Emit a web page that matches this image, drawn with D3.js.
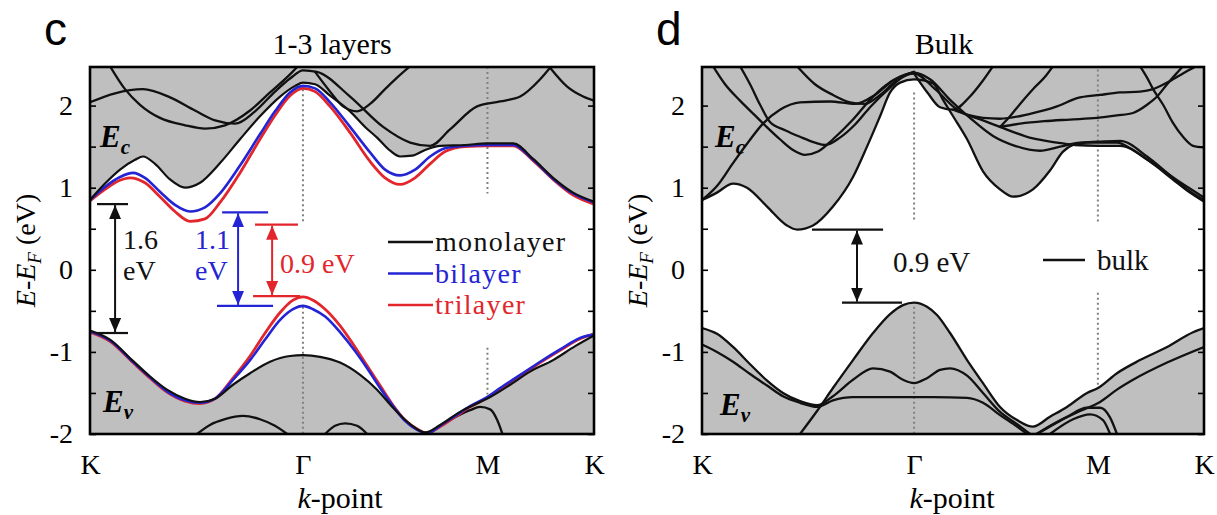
<!DOCTYPE html>
<html><head><meta charset="utf-8">
<script src="https://cdn.jsdelivr.net/npm/d3@7/dist/d3.min.js"></script>
<style>
body{margin:0;background:#fff;}
svg{display:block;}
.serif{font-family:"Liberation Serif", "Times New Roman", serif;}
.sans{font-family:"Liberation Sans", Arial, sans-serif;}
</style></head><body>
<svg id="chart" width="1217" height="515"></svg>
<script>
// ---------------- DATA ----------------
// k-path distance (units of pi/a): K - Gamma - M - K
const kTicks = [0, 1.333, 2.488, 3.155];
const kLabels = ["K", "Γ", "M", "K"];
const eDomain = [-2, 2.47];
const eMinor = [-2, -1.5, -1, -0.5, 0, 0.5, 1, 1.5, 2];

// ---- panel c : 1-3 layers ----
const mono_cb1 = [[0,0.85],[0.094,1.05],[0.188,1.22],[0.282,1.34],[0.332,1.38],[0.407,1.29],[0.501,1.10],[0.595,1.00],[0.689,1.06],[0.814,1.30],[0.939,1.59],[1.064,1.87],[1.190,2.11],[1.284,2.24],[1.334,2.28],[1.409,2.26],[1.503,2.12],[1.628,1.93],[1.722,1.74],[1.797,1.61],[1.879,1.45],[1.941,1.38],[2.016,1.39],[2.098,1.46],[2.192,1.51],[2.348,1.52],[2.486,1.54],[2.649,1.54],[2.774,1.35],[2.899,1.12],[3.024,0.94],[3.155,0.83]];
const mono_cb2 = [[0,2.04],[0.157,2.15],[0.332,2.20],[0.501,2.10],[0.657,1.94],[0.783,1.82],[0.908,1.78],[1.033,1.93],[1.158,2.17],[1.252,2.33],[1.334,2.43],[1.421,2.41],[1.628,2.11],[1.835,1.74],[2.004,1.55],[2.129,1.51],[2.254,1.71],[2.423,1.99],[2.567,2.05],[2.693,2.11],[2.818,2.32],[2.880,2.46]];
const mono_cb3 = [[0.125,2.48],[0.219,2.20],[0.313,2.01],[0.438,1.85],[0.595,1.76],[0.720,1.72],[0.845,1.76],[1.002,1.94],[1.127,2.16],[1.252,2.38],[1.302,2.48]];
const mono_cb4 = [[1.409,2.41],[1.503,2.17],[1.584,1.99],[1.672,1.93],[1.753,2.02],[1.847,2.20],[1.922,2.34],[2.004,2.48]];
const mono_cb5 = [[2.880,2.46],[2.987,2.23],[3.087,2.11],[3.155,2.06]];
const bi_cb = [[0,0.85],[0.094,1.01],[0.188,1.13],[0.269,1.18],[0.344,1.12],[0.438,0.95],[0.532,0.79],[0.626,0.71],[0.720,0.76],[0.814,0.93],[0.939,1.27],[1.064,1.65],[1.158,1.93],[1.252,2.16],[1.334,2.24],[1.409,2.21],[1.503,2.04],[1.628,1.74],[1.753,1.43],[1.847,1.22],[1.941,1.15],[2.035,1.22],[2.129,1.38],[2.223,1.48],[2.348,1.51],[2.486,1.52],[2.649,1.52],[2.774,1.34],[2.899,1.11],[3.024,0.93],[3.155,0.82]];
const tri_cb = [[0,0.84],[0.094,0.98],[0.188,1.09],[0.250,1.12],[0.344,1.06],[0.438,0.89],[0.532,0.71],[0.626,0.59],[0.720,0.62],[0.814,0.82],[0.939,1.18],[1.064,1.59],[1.158,1.88],[1.252,2.12],[1.334,2.21],[1.409,2.17],[1.503,1.99],[1.628,1.67],[1.753,1.32],[1.847,1.12],[1.941,1.04],[2.035,1.12],[2.129,1.29],[2.223,1.44],[2.348,1.50],[2.486,1.51],[2.649,1.51],[2.774,1.33],[2.899,1.10],[3.024,0.91],[3.155,0.80]];
const mono_vb1 = [[0,-0.74],[0.125,-0.85],[0.269,-1.11],[0.376,-1.30],[0.482,-1.46],[0.595,-1.57],[0.689,-1.61],[0.783,-1.57],[0.895,-1.40],[1.002,-1.26],[1.127,-1.12],[1.252,-1.05],[1.334,-1.04],[1.440,-1.06],[1.565,-1.13],[1.691,-1.28],[1.797,-1.46],[1.897,-1.68],[2.004,-1.88],[2.098,-1.98],[2.192,-1.89],[2.317,-1.73],[2.442,-1.61],[2.505,-1.55],[2.630,-1.40],[2.755,-1.24],[2.899,-1.10],[3.037,-0.93],[3.155,-0.80]];
const mono_vb2 = [[2.129,-1.99],[2.254,-1.83],[2.379,-1.71],[2.442,-1.67],[2.505,-1.70],[2.549,-1.83],[2.580,-1.99]];
const mono_vb3 = [[0.670,-2.0],[0.751,-1.89],[0.845,-1.82],[0.958,-1.78],[1.064,-1.82],[1.158,-1.90],[1.234,-2.0]];
const mono_vb4 = [[1.472,-2.0],[1.534,-1.90],[1.597,-1.87],[1.672,-1.90],[1.735,-2.0]];
const tri_vb = [[0,-0.76],[0.125,-0.87],[0.269,-1.13],[0.376,-1.32],[0.482,-1.49],[0.595,-1.60],[0.689,-1.63],[0.783,-1.57],[0.895,-1.32],[1.002,-1.05],[1.096,-0.77],[1.190,-0.52],[1.271,-0.37],[1.334,-0.33],[1.396,-0.37],[1.472,-0.48],[1.565,-0.68],[1.659,-0.94],[1.735,-1.17],[1.816,-1.41],[1.897,-1.65],[1.972,-1.83],[2.048,-1.94],[2.110,-1.99],[2.192,-1.91],[2.286,-1.79],[2.379,-1.67],[2.486,-1.56],[2.567,-1.45],[2.693,-1.29],[2.818,-1.13],[2.943,-0.98],[3.068,-0.84],[3.155,-0.78]];
const bi_vb = [[0,-0.75],[0.125,-0.86],[0.269,-1.12],[0.376,-1.31],[0.482,-1.48],[0.595,-1.59],[0.689,-1.62],[0.783,-1.57],[0.895,-1.34],[1.002,-1.10],[1.096,-0.85],[1.190,-0.61],[1.271,-0.48],[1.334,-0.44],[1.396,-0.48],[1.472,-0.57],[1.565,-0.76],[1.659,-0.99],[1.735,-1.20],[1.816,-1.44],[1.897,-1.66],[1.972,-1.84],[2.048,-1.95],[2.110,-1.99],[2.192,-1.90],[2.286,-1.78],[2.379,-1.66],[2.486,-1.55],[2.567,-1.44],[2.693,-1.28],[2.818,-1.12],[2.943,-0.97],[3.068,-0.83],[3.155,-0.79]];
// band gaps (eV): [CBM, VBM]
const gapMono = [0.80, -0.77], gapBi = [0.70, -0.44], gapTri = [0.55, -0.32];
const gapLabels = ["1.6", "1.1", "0.9 eV"];
const legendLayers = ["monolayer", "bilayer", "trilayer"];

// ---- panel d : bulk ----
const bulk_cb1 = [[0,0.85],[0.094,0.94],[0.195,1.05],[0.283,1.00],[0.409,0.77],[0.534,0.54],[0.597,0.49],[0.698,0.54],[0.823,0.77],[0.949,1.13],[1.037,1.50],[1.119,1.87],[1.182,2.16],[1.245,2.28],[1.333,2.32],[1.452,2.27],[1.515,2.07],[1.578,1.87],[1.666,1.59],[1.766,1.20],[1.873,0.98],[1.955,0.89],[2.080,0.98],[2.187,1.21],[2.269,1.44],[2.332,1.52],[2.420,1.55],[2.489,1.55],[2.608,1.55],[2.709,1.46],[2.835,1.29],[2.960,1.10],[3.067,0.94],[3.155,0.83]];
const bulk_cb2 = [[0,0.85],[0.094,1.02],[0.195,1.30],[0.289,1.55],[0.383,1.78],[0.490,1.95],[0.616,2.04],[0.805,2.05],[0.962,2.02],[1.087,2.13],[1.213,2.32],[1.333,2.40],[1.433,2.32],[1.559,2.07],[1.684,1.85],[1.829,1.63],[1.967,1.51],[2.124,1.45],[2.250,1.50],[2.376,1.55],[2.489,1.56],[2.627,1.57],[2.797,1.38],[2.923,1.18],[3.048,0.98],[3.155,0.85]];
const bulk_cb3 = [[0.069,2.48],[0.145,2.26],[0.239,2.06],[0.333,1.88],[0.396,1.76],[0.490,1.59],[0.572,1.46],[0.647,1.40],[0.729,1.44],[0.823,1.59],[0.949,1.83],[1.056,2.07],[1.150,2.24],[1.245,2.35],[1.333,2.39],[1.465,2.20],[1.603,1.95],[1.766,1.82],[1.873,1.74],[2.080,1.60],[2.231,1.55],[2.344,1.52],[2.489,1.51],[2.627,1.51],[2.816,1.32],[2.986,1.09],[3.155,0.88]];
const bulk_cb4 = [[0.239,2.48],[0.302,2.26],[0.365,2.01],[0.427,1.80],[0.522,1.70],[0.616,1.62],[0.710,1.55],[0.773,1.52],[0.867,1.61],[0.962,1.77],[1.056,1.98],[1.182,2.22],[1.276,2.37],[1.333,2.41]];
const bulk_cb5 = [[0.597,2.48],[0.710,2.26],[0.823,2.13],[0.930,2.04],[1.024,2.02],[1.119,2.13],[1.213,2.29],[1.333,2.41]];
const bulk_cb6 = [[1.333,2.39],[1.420,2.15],[1.496,1.98],[1.578,1.95],[1.684,2.11],[1.760,2.29],[1.829,2.48]];
const bulk_cb7 = [[1.873,1.74],[1.936,1.87],[1.999,2.02],[2.080,2.20],[2.156,2.35],[2.206,2.48]];
const bulk_cb8 = [[1.578,1.95],[1.684,1.88],[1.766,1.85],[1.873,1.84],[2.062,1.90],[2.231,1.99],[2.357,2.09],[2.502,2.13],[2.627,2.16],[2.753,2.17],[2.835,2.20],[2.923,2.28],[3.004,2.37],[3.067,2.44],[3.105,2.48]];
const bulk_cb9 = [[1.873,1.74],[2.000,1.78],[2.150,1.81],[2.313,1.83],[2.483,1.85],[2.608,1.88],[2.709,1.91],[2.797,2.01],[2.860,2.11],[2.923,2.26],[2.986,2.40],[3.023,2.48]];
const bulk_cb10 = [[2.753,2.48],[2.797,2.34],[2.835,2.20],[2.898,2.01],[2.960,1.79],[3.023,1.62],[3.086,1.51],[3.155,1.49]];
const bulk_vb0 = [[0.616,-2.0],[0.723,-1.72],[0.823,-1.44],[0.949,-1.10],[1.075,-0.77],[1.182,-0.54],[1.263,-0.43],[1.333,-0.40],[1.414,-0.45],[1.477,-0.55],[1.559,-0.77],[1.666,-1.10],[1.766,-1.38],[1.873,-1.67],[1.980,-1.83],[2.080,-1.91],[2.187,-1.79],[2.294,-1.67],[2.420,-1.50],[2.489,-1.44],[2.608,-1.26],[2.753,-1.10],[2.923,-0.94],[3.086,-0.76],[3.155,-0.71]];
const bulk_vb1 = [[0,-0.71],[0.094,-0.78],[0.195,-0.94],[0.302,-1.15],[0.409,-1.35],[0.509,-1.50],[0.616,-1.60],[0.723,-1.65],[0.823,-1.54],[0.949,-1.34],[1.075,-1.20],[1.182,-1.24],[1.263,-1.34],[1.333,-1.38],[1.414,-1.32],[1.496,-1.22],[1.559,-1.20],[1.666,-1.29],[1.766,-1.50],[1.873,-1.73],[1.980,-1.88],[2.062,-2.0]];
const bulk_vb2 = [[0,-0.91],[0.094,-1.00],[0.195,-1.12],[0.302,-1.27],[0.409,-1.41],[0.509,-1.54],[0.616,-1.62],[0.723,-1.67],[0.823,-1.59],[0.949,-1.55],[1.138,-1.55],[1.333,-1.55],[1.452,-1.55],[1.666,-1.56],[1.766,-1.62],[1.873,-1.77],[1.980,-1.91],[2.043,-2.0]];
const bulk_vb3 = [[2.124,-1.98],[2.250,-1.84],[2.376,-1.72],[2.502,-1.61],[2.608,-1.46],[2.709,-1.34],[2.923,-1.13],[3.155,-0.94]];
const bulk_vb4 = [[2.100,-2.0],[2.143,-1.95],[2.294,-1.79],[2.420,-1.68],[2.502,-1.68],[2.565,-1.80],[2.608,-2.0]];
const bulk_vb5 = [[2.187,-2.0],[2.332,-1.82],[2.439,-1.76],[2.520,-1.83],[2.565,-2.0]];
const gapBulk = [0.49, -0.40];
const gapBulkLabel = "0.9 eV";
const legendBulk = ["bulk"];

// ---------------- DRAWING ----------------
const svg = d3.select("#chart");
const GRAY = "#bfbfbf";
const BLUE = "#2424d4", RED = "#e2262c", BLACK = "#111";
const TOP = 67, BOTTOM = 434;

const defs = svg.append("defs");
function arrowMarker(id, color){
  defs.append("marker").attr("id", id).attr("viewBox", "0 0 14 12")
    .attr("refX", 14).attr("refY", 6).attr("markerWidth", 14).attr("markerHeight", 12)
    .attr("markerUnits", "userSpaceOnUse").attr("orient", "auto-start-reverse")
    .append("path").attr("d", "M0,0 L14,6 L0,12 Z").attr("fill", color);
}
arrowMarker("arrK", BLACK); arrowMarker("arrB", BLUE); arrowMarker("arrR", RED);

function makePanel(id, x0, x1){
  const x = d3.scaleLinear().domain([kTicks[0], kTicks[3]]).range([x0, x1]);
  const y = d3.scaleLinear().domain(eDomain).range([BOTTOM, TOP]);
  const g = svg.append("g").attr("class", "serif");
  defs.append("clipPath").attr("id", "clip" + id).append("rect")
    .attr("x", x0).attr("y", TOP).attr("width", x1 - x0).attr("height", BOTTOM - TOP);
  const plot = g.append("g").attr("clip-path", `url(#clip${id})`);
  const fills = plot.append("g"), dots = plot.append("g"), lines = plot.append("g");
  return {x, y, g, plot, fills, dots, lines, x0, x1};
}
const curve = d3.curveMonotoneX;
function fillAbove(p, band){
  p.fills.append("path").datum(band).attr("fill", GRAY).attr("stroke", "none")
    .attr("d", d3.area().x(d => p.x(d[0])).y0(p.y(eDomain[1])).y1(d => p.y(d[1])).curve(curve));
}
function fillBelow(p, band){
  p.fills.append("path").datum(band).attr("fill", GRAY).attr("stroke", "none")
    .attr("d", d3.area().x(d => p.x(d[0])).y0(p.y(eDomain[0])).y1(d => p.y(d[1])).curve(curve));
}
function band(p, data, color, w){
  p.lines.append("path").datum(data).attr("fill", "none").attr("stroke", color)
    .attr("stroke-width", w).attr("stroke-linejoin", "round").attr("stroke-linecap", "round")
    .attr("d", d3.line().x(d => p.x(d[0])).y(d => p.y(d[1])).curve(curve));
}
function dotted(p, k, segs){
  segs.forEach(s => {
    p.dots.append("line").attr("x1", p.x(k)).attr("x2", p.x(k))
      .attr("y1", p.y(s[0])).attr("y2", p.y(s[1]))
      .attr("stroke", "#808080").attr("stroke-width", 2).attr("stroke-dasharray", "2,3");
  });
}
function axes(p, title, letter){
  const g = p.g;
  const ax = g.append("g").attr("transform", `translate(${p.x0},0)`)
    .call(d3.axisLeft(p.y).tickValues(eMinor).tickSizeInner(-6).tickSizeOuter(0).tickPadding(17)
      .tickFormat(d => Number.isInteger(d) ? String(d) : ""));
  const ax2 = g.append("g").attr("transform", `translate(${p.x1},0)`)
    .call(d3.axisRight(p.y).tickValues(eMinor).tickSizeInner(-6).tickSizeOuter(0).tickFormat(""));
  const axb = g.append("g").attr("transform", `translate(0,${BOTTOM})`)
    .call(d3.axisBottom(p.x).tickValues(kTicks).tickFormat((d, i) => kLabels[i]).tickSize(0).tickPadding(20));
  [ax, ax2, axb].forEach(a => {
    a.attr("font-family", null).attr("class", "serif").attr("font-size", 28);
    a.select(".domain").remove();
    a.selectAll("line").attr("stroke", "#000").attr("stroke-width", 1.6);
    a.selectAll("text").attr("fill", "#000");
  });
  g.append("rect").attr("x", p.x0).attr("y", TOP).attr("width", p.x1 - p.x0).attr("height", BOTTOM - TOP)
    .attr("fill", "none").attr("stroke", "#000").attr("stroke-width", 2.6);
  // y label
  const yl = g.append("text").attr("class", "serif")
    .attr("transform", `translate(${p.x0 - 55},${(TOP + BOTTOM) / 2}) rotate(-90)`)
    .attr("text-anchor", "middle").attr("font-size", 28);
  yl.append("tspan").attr("font-style", "italic").text("E");
  yl.append("tspan").text("-");
  yl.append("tspan").attr("font-style", "italic").text("E");
  yl.append("tspan").attr("font-style", "italic").attr("font-size", 19).attr("dy", 6).text("F");
  yl.append("tspan").attr("dy", -6).text(" (eV)");
  // x label
  const xl = g.append("text").attr("class", "serif").attr("x", p.x0 + 250).attr("y", 508)
    .attr("text-anchor", "middle").attr("font-size", 30);
  xl.append("tspan").attr("font-style", "italic").text("k");
  xl.append("tspan").text("-point");
  // title
  g.append("text").attr("class", "serif").attr("x", p.x0 + 242).attr("y", 54)
    .attr("text-anchor", "middle").attr("font-size", 30).text(title);
  g.append("text").attr("class", "sans").attr("x", p.x0 - 46).attr("y", 45)
    .attr("font-size", 46).text(letter);
}
function eLabel(p, k, e, sub){
  const t = p.g.append("text").attr("class", "serif").attr("x", p.x(k)).attr("y", p.y(e))
    .attr("font-size", 31).attr("font-weight", "bold").attr("font-style", "italic");
  t.append("tspan").text("E");
  t.append("tspan").attr("font-size", 21).attr("dy", 7).text(sub);
}
function gapMark(p, gap, kArrow, topSpan, botSpan, color, marker){
  const g = p.g;
  [[gap[0], topSpan], [gap[1], botSpan]].forEach(([e, s]) => {
    g.append("line").attr("x1", p.x(s[0])).attr("x2", p.x(s[1])).attr("y1", p.y(e)).attr("y2", p.y(e))
      .attr("stroke", color).attr("stroke-width", 2.2);
  });
  g.append("line").attr("x1", p.x(kArrow)).attr("x2", p.x(kArrow))
    .attr("y1", p.y(gap[0]) + 1).attr("y2", p.y(gap[1]) - 1)
    .attr("stroke", color).attr("stroke-width", 2)
    .attr("marker-start", `url(#${marker})`).attr("marker-end", `url(#${marker})`);
}
// multi-line text block: lines = [[string, color], ...]
function textBlock(g, x, y, lines, size, step){
  const t = g.append("text").attr("class", "serif").attr("font-size", size);
  lines.forEach((l, i) => t.append("tspan").attr("x", x).attr("y", y + i * step).attr("fill", l[1]).text(l[0]));
  return t;
}

// ---- panel c ----
const pc = makePanel("c", 90, 594);
fillAbove(pc, mono_cb1);
fillBelow(pc, mono_vb1);
dotted(pc, kTicks[1], [[2.2, 0.57], [-0.45, -2]]);
dotted(pc, kTicks[2], [[2.47, 0.93], [-0.95, -1.52]]);
[mono_cb2, mono_cb3, mono_cb4, mono_cb5, mono_vb2, mono_vb3, mono_vb4].forEach(b => band(pc, b, BLACK, 2.3));
band(pc, tri_cb, RED, 2.8); band(pc, tri_vb, RED, 2.8);
band(pc, bi_cb, BLUE, 2.6); band(pc, bi_vb, BLUE, 2.6);
band(pc, mono_cb1, BLACK, 2.2); band(pc, mono_vb1, BLACK, 2.2);
axes(pc, "1-3 layers", "c");
eLabel(pc, 0.063, 1.49, "c");
eLabel(pc, 0.081, -1.73, "v");
gapMark(pc, gapMono, 0.157, [0.044, 0.238], [0.044, 0.238], BLACK, "arrK");
gapMark(pc, gapBi, 0.927, [0.827, 1.115], [0.795, 1.146], BLUE, "arrB");
gapMark(pc, gapTri, 1.140, [1.033, 1.302], [1.021, 1.315], RED, "arrR");
textBlock(pc.g, pc.x(0.207), 249, [[gapLabels[0], BLACK], ["eV", BLACK]], 28, 31);
textBlock(pc.g, pc.x(0.657), 249, [[gapLabels[1], BLUE], ["eV", BLUE]], 28, 31);
textBlock(pc.g, pc.x(1.190), 273, [[gapLabels[2], RED]], 28, 0);
const legColors = [BLACK, BLUE, RED];
const legStep = 31.5;
legendLayers.forEach((s, i) => {
  const yy = 242 + i * legStep;
  pc.g.append("line").attr("x1", 388).attr("x2", 433).attr("y1", yy).attr("y2", yy)
    .attr("stroke", legColors[i]).attr("stroke-width", 2.6);
});
textBlock(pc.g, 435, 251, legendLayers.map((s, i) => [s, legColors[i]]), 28, legStep)
  .attr("letter-spacing", 1.3);

// ---- panel d ----
const pd = makePanel("d", 702, 1204);
const bulkCB = [bulk_cb1, bulk_cb2, bulk_cb3, bulk_cb4, bulk_cb5, bulk_cb6, bulk_cb7, bulk_cb8, bulk_cb9, bulk_cb10];
const bulkVB = [bulk_vb0, bulk_vb1, bulk_vb2, bulk_vb3, bulk_vb4, bulk_vb5];
bulkCB.forEach(b => fillAbove(pd, b));
bulkVB.forEach(b => fillBelow(pd, b));
dotted(pd, kTicks[1], [[2.16, 0.58], [-0.45, -2]]);
dotted(pd, kTicks[2], [[2.44, 0.58], [-0.28, -1.44]]);
bulkCB.concat(bulkVB).forEach(b => band(pd, b, BLACK, 2.3));
axes(pd, "Bulk", "d");
eLabel(pd, 0.082, 1.49, "c");
eLabel(pd, 0.113, -1.77, "v");
gapMark(pd, gapBulk, 0.974, [0.691, 1.138], [0.880, 1.257], BLACK, "arrK");
textBlock(pd.g, 893, 272, [[gapBulkLabel, BLACK]], 29, 0);
pd.g.append("line").attr("x1", 1043).attr("x2", 1085).attr("y1", 260).attr("y2", 260)
  .attr("stroke", BLACK).attr("stroke-width", 2.6);
textBlock(pd.g, 1097, 270, [[legendBulk[0], BLACK]], 29, 0);
</script></body></html>
